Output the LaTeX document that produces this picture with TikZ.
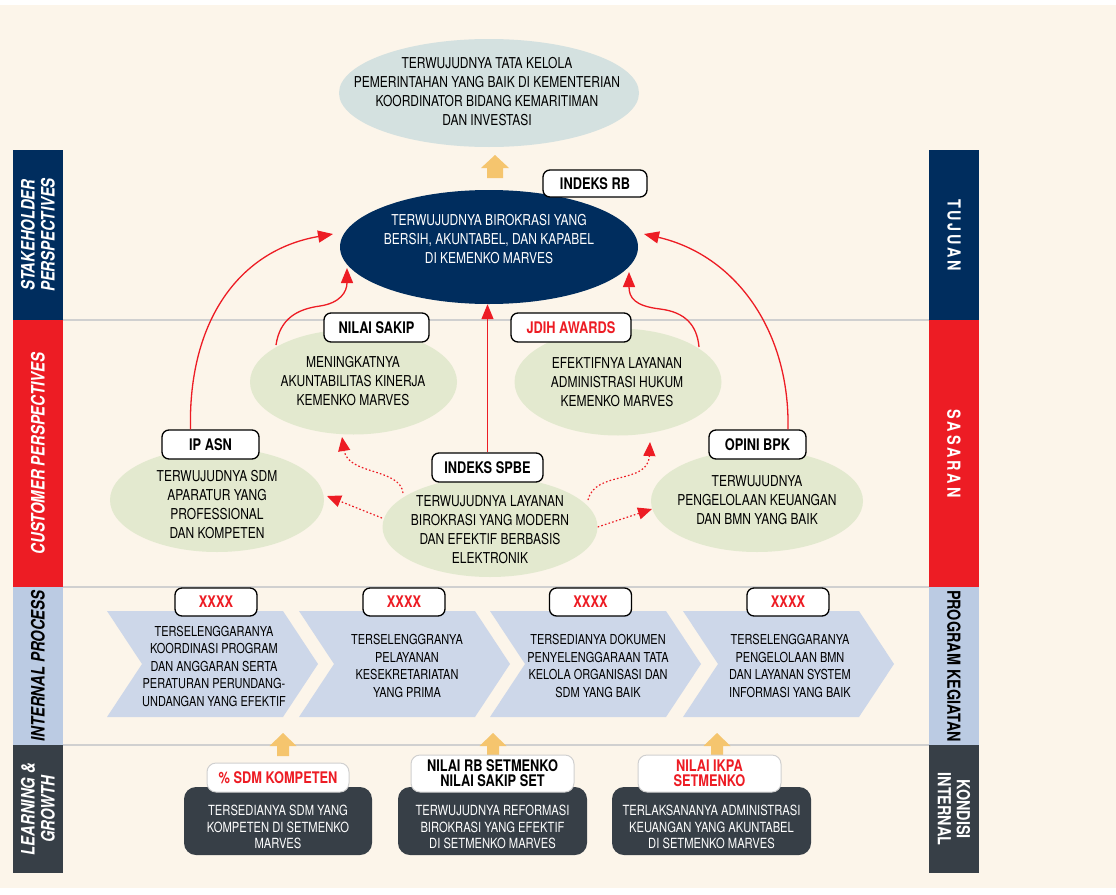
\documentclass[tikz,border=0pt]{standalone}
\usepackage{fontspec}
\setmainfont[FakeStretch=0.8]{TeX Gyre Heros}
\usetikzlibrary{shapes.geometric,arrows.meta,calc}
\definecolor{cream}{HTML}{FCF5EA}
\definecolor{navy}{HTML}{002D5E}
\definecolor{bsred}{HTML}{ED1C24}
\definecolor{barblue}{HTML}{BBCBE3}
\definecolor{slate}{HTML}{373F47}
\definecolor{sage}{HTML}{E3E9CF}
\definecolor{mist}{HTML}{D4E1E0}
\definecolor{chev}{HTML}{CDD7E9}
\definecolor{gold}{HTML}{F5C56E}
\definecolor{rulegray}{HTML}{D0D0D0}
\begin{document}
\begin{tikzpicture}[x=1pt,y=-1pt,
  ell/.style={ellipse, inner sep=0pt},
  greenell/.style={ell, fill=sage},
  elltext/.style={align=center, inner sep=0pt, font=\fontsize{15}{19}\selectfont},
  tagbox/.style={draw=black, line width=1.3pt, fill=white, rounded corners=7pt, inner sep=0pt,
    minimum height=29, align=center, font=\bfseries\fontsize{16}{16}\selectfont},
  softtag/.style={draw=rulegray, line width=1pt, fill=white, rounded corners=9pt, inner sep=0pt,
    align=center, font=\bfseries\fontsize{16}{15}\selectfont},
  chevtext/.style={align=center, inner sep=0pt, font=\fontsize{13.7}{17.5}\selectfont},
  darkbox/.style={fill=slate, rounded corners=12pt, minimum height=68, inner sep=0pt},
  boxtext/.style={text=white, align=center, inner sep=0pt, font=\fontsize{14}{16.5}\selectfont},
  bar/.style={inner sep=0pt, minimum width=50},
  lefttext/.style={rotate=90, align=center, inner sep=0pt, font=\bfseries\itshape\fontsize{18.5}{20}\selectfont},
  righttext/.style={rotate=-90, align=center, inner sep=0pt, font=\bfseries\fontsize{18}{19}\selectfont},
  link/.style={draw=bsred, line width=1.3pt, -{Triangle[length=15pt,width=12pt]}},
  dotlink/.style={draw=bsred, line width=1.2pt, dash pattern=on 1.6pt off 2.2pt, -{Triangle[length=14pt,width=12pt]}},
  divider/.style={draw=rulegray, line width=1.5pt}
]
\useasboundingbox (0,0) rectangle (1116,894);
\fill[white] (0,0) rectangle (1116,894);
\fill[cream] (0,5) rectangle (1116,888);

% divider lines
\draw[divider] (63,320) -- (929,320);
\draw[divider] (63,587) -- (929,587);
\draw[divider] (63,745) -- (929,745);

% left bars
\node[bar, fill=navy, minimum height=170] (bl1) at (38,235) {};
\node[lefttext, text=white] (bl1t) at (bl1) {STAKEHOLDER\\PERSPECTIVES};
\node[bar, fill=bsred, minimum height=267] (bl2) at (38,453.5) {};
\node[lefttext, text=white] (bl2t) at (bl2) {CUSTOMER PERSPECTIVES};
\node[bar, fill=barblue, minimum height=158] (bl3) at (38,666) {};
\node[lefttext, text=black] (bl3t) at (bl3) {INTERNAL PROCESS};
\node[bar, fill=slate, minimum height=128] (bl4) at (38,809) {};
\node[lefttext, text=white] (bl4t) at (bl4) {LEARNING \&\\GROWTH};

% right bars
\node[bar, fill=navy, minimum height=170] (br1) at (954,235) {};
\node[righttext, text=white] (br1t) at (br1) {\addfontfeature{LetterSpace=15}TUJUAN};
\node[bar, fill=bsred, minimum height=267] (br2) at (954,453.5) {};
\node[righttext, text=white] (br2t) at (br2) {\addfontfeature{LetterSpace=16}SASARAN};
\node[bar, fill=barblue, minimum height=158] (br3) at (954,666) {};
\node[righttext, text=black] (br3t) at (br3) {PROGRAM KEGIATAN};
\node[bar, fill=slate, minimum height=128] (br4) at (954,809) {};
\node[righttext, text=white] (br4t) at (br4) {KONDISI\\INTERNAL};

% top vision ellipse
\node[ell, fill=mist, minimum width=300, minimum height=108] (vision) at (489,93) {};
\node[elltext] (visiont) at (487,92)
  {TERWUJUDNYA TATA KELOLA\\PEMERINTAHAN YANG BAIK DI KEMENTERIAN\\KOORDINATOR BIDANG KEMARITIMAN\\DAN INVESTASI};
% yellow arrow to vision
\fill[gold] (495,155) -- (509,168) -- (503,168) -- (503,178) -- (487,178) -- (487,168) -- (481,168) -- cycle;

% goal ellipse
\node[ell, fill=navy, minimum width=298, minimum height=114] (goal) at (489,247) {};
\node[elltext, text=white] (goalt) at (489,239)
  {TERWUJUDNYA BIROKRASI YANG\\BERSIH, AKUNTABEL, DAN KAPABEL\\DI KEMENKO MARVES};
\node[tagbox, minimum width=104, minimum height=27] (tgoal) at (595,183.5) {INDEKS RB};

% target ellipses
\node[greenell, minimum width=207, minimum height=105] (sakip) at (353.5,382) {};
\node[elltext] (sakipt) at (353,381) {MENINGKATNYA\\AKUNTABILITAS KINERJA\\KEMENKO MARVES};
\node[greenell, minimum width=207, minimum height=107] (jdih) at (618,382) {};
\node[elltext] (jdiht) at (617,382) {EFEKTIFNYA LAYANAN\\ADMINISTRASI HUKUM\\KEMENKO MARVES};
\node[greenell, minimum width=214, minimum height=104] (sdm) at (217,500) {};
\node[elltext] (sdmt) at (217,505) {TERWUJUDNYA SDM\\APARATUR YANG\\PROFESSIONAL\\DAN KOMPETEN};
\node[greenell, minimum width=212, minimum height=102] (bpk) at (757,501) {};
\node[elltext] (bpkt) at (757,500) {TERWUJUDNYA\\PENGELOLAAN KEUANGAN\\DAN BMN YANG BAIK};
\node[greenell, minimum width=215, minimum height=100] (spbe) at (490,527) {};
\node[elltext] (spbet) at (490,530) {TERWUJUDNYA LAYANAN\\BIROKRASI YANG MODERN\\DAN EFEKTIF BERBASIS\\ELEKTRONIK};

\node[tagbox, minimum width=105] (tsakip) at (376.5,327.5) {NILAI SAKIP};
\node[tagbox, minimum width=120, text=bsred] (tjdih) at (571,327.5) {JDIH AWARDS};
\node[tagbox, minimum width=97] (tsdm) at (210.5,444.5) {IP ASN};
\node[tagbox, minimum width=97] (tbpk) at (757.5,444.5) {OPINI BPK};
\node[tagbox, minimum width=111] (tspbe) at (487.5,467.5) {INDEKS SPBE};

% solid red connectors
\draw[link] ($(tsdm.north)+(-20,0)$) .. controls (188,320) and (240,250) .. ($(goal.center)+(-156,-13)$);
\draw[link] ($(sakip.center)+(-77.5,-37)$) .. controls (280,318) and (298,309) .. (320,306)
  .. controls (340,303) and (347,292) .. ($(goal.center)+(-142,21)$);
\draw[link] (tspbe.north) -- (tspbe.north |- goal.south);
\draw[link] ($(jdih.center)+(81,-35)$) .. controls (697,325) and (685,312) .. (660,309)
  .. controls (635,306) and (629,298) .. ($(goal.center)+(140,25)$);
\draw[link] ($(tbpk.north)+(30.5,0)$) .. controls (790,330) and (735,255) .. ($(goal.center)+(155,-13)$);

% dotted red connectors
\draw[dotlink] ($(spbe.center)+(-108,-9)$) -- ($(sdm.center)+(110,-4)$);
\draw[dotlink] ($(spbe.center)+(-87,-34)$) .. controls (400,468) and (348,475) .. ($(sakip.center)+(-11.5,55)$);
\draw[dotlink] ($(spbe.center)+(98,-27)$) .. controls (595,470) and (648,485) .. ($(jdih.center)+(32,60)$);
\draw[dotlink] (spbe.east) -- ($(bpk.center)+(-105,8)$);

% chevrons
\foreach \L in {107,299,490,683}
  \fill[chev] (\L,611) -- ++(176,0) -- ++(35,53) -- ++(-35,53) -- ++(-176,0) -- ++(35,-53) -- cycle;
\node[chevtext] (p1) at (214,666) {TERSELENGGARANYA\\KOORDINASI PROGRAM\\DAN ANGGARAN SERTA\\PERATURAN PERUNDANG-\\UNDANGAN YANG EFEKTIF};
\node[chevtext] (p2) at (407,666) {TERSELENGGRANYA\\PELAYANAN\\KESEKRETARIATAN\\YANG PRIMA};
\node[chevtext] (p3) at (598,666) {TERSEDIANYA DOKUMEN\\PENYELENGGARAAN TATA\\KELOLA ORGANISASI DAN\\SDM YANG BAIK};
\node[chevtext] (p4) at (790,666) {TERSELENGGARANYA\\PENGELOLAAN BMN\\DAN LAYANAN SYSTEM\\INFORMASI YANG BAIK};
\node[tagbox, minimum width=82, minimum height=28, text=bsred] (x1) at (216,602) {XXXX};
\node[tagbox, minimum width=82, minimum height=28, text=bsred] (x2) at (404,602) {XXXX};
\node[tagbox, minimum width=82, minimum height=28, text=bsred] (x3) at (590.5,602) {XXXX};
\node[tagbox, minimum width=82, minimum height=28, text=bsred] (x4) at (788,602) {XXXX};

% yellow arrows from bottom
\foreach \X in {283,493,717}
  \fill[gold] (\X,733) -- ++(13.5,13) -- ++(-7.5,0) -- ++(0,10) -- ++(-12,0) -- ++(0,-10) -- ++(-7.5,0) -- cycle;

% bottom boxes
\node[darkbox, minimum width=188] (k1) at (278,821) {};
\node[boxtext] (k1t) at (278,827) {TERSEDIANYA SDM YANG\\KOMPETEN DI SETMENKO\\MARVES};
\node[darkbox, minimum width=189] (k2) at (492.5,821) {};
\node[boxtext] (k2t) at (492.5,827) {TERWUJUDNYA REFORMASI\\BIROKRASI YANG EFEKTIF\\DI SETMENKO MARVES};
\node[darkbox, minimum width=199] (k3) at (711.5,821) {};
\node[boxtext] (k3t) at (711.5,827) {TERLAKSANANYA ADMINISTRASI\\KEUANGAN YANG AKUNTABEL\\DI SETMENKO MARVES};

\node[softtag, minimum width=142, minimum height=29, text=bsred] (l1) at (278,777.5) {\% SDM KOMPETEN};
\node[softtag, minimum width=163, minimum height=37] (l2) at (492.5,773.5) {NILAI RB SETMENKO\\NILAI SAKIP SET};
\node[softtag, minimum width=143, minimum height=37, text=bsred] (l3) at (709.5,773.5) {NILAI IKPA\\SETMENKO};
\end{tikzpicture}
\end{document}
